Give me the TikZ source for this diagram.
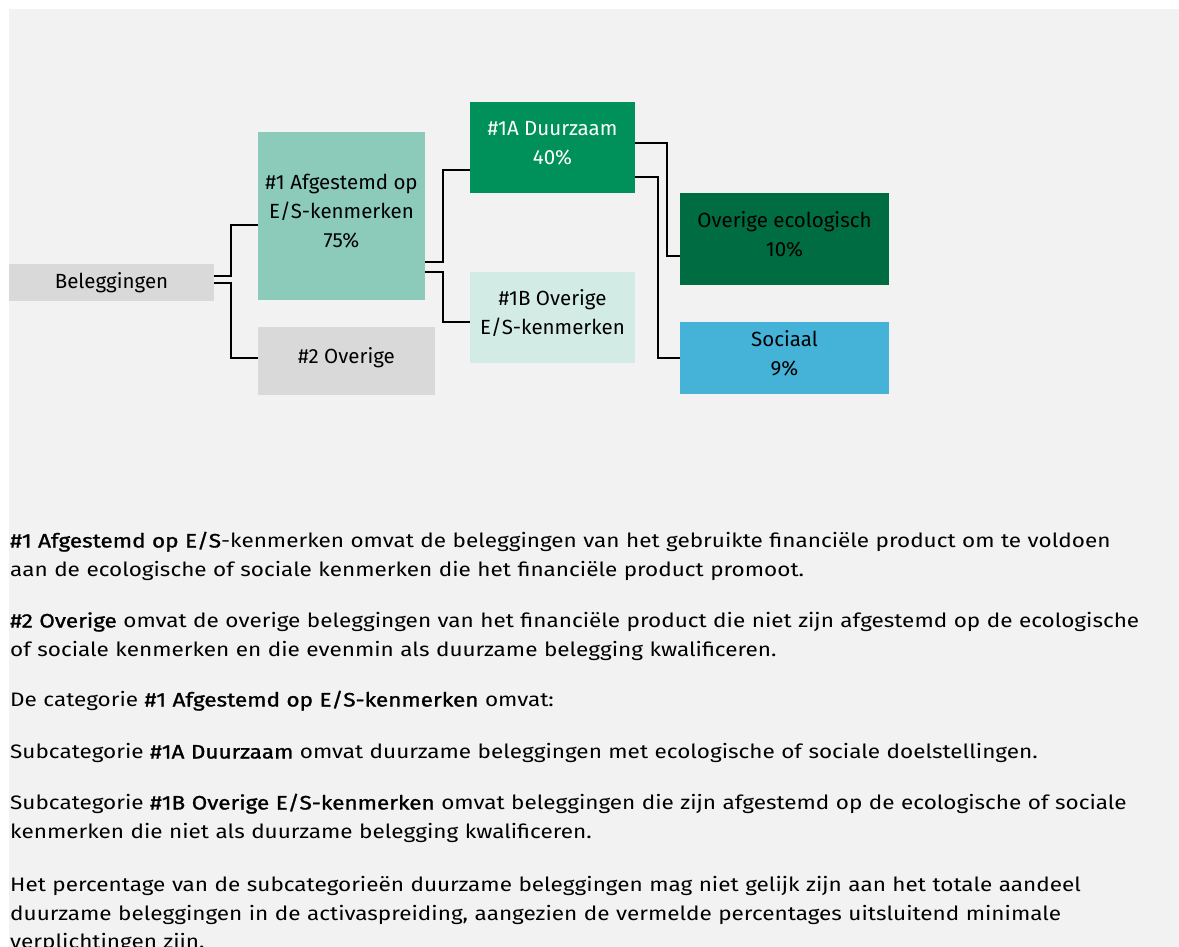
\documentclass[tikz,border=0pt]{standalone}
\usepackage{fontspec}
\setmainfont{Fira Sans}
\newfontfamily\bodyfont{Fira Sans}[FakeStretch=1.155,BoldFont={Fira Sans},BoldFeatures={FakeBold=1.2}]
\usetikzlibrary{positioning}

\definecolor{pagegrey}{HTML}{F2F2F2}
\definecolor{boxgrey}{HTML}{D9D9D9}
\definecolor{tealmid}{HTML}{8CCBBA}
\definecolor{bnpgreen}{HTML}{00915A}
\definecolor{mintlight}{HTML}{D2EBE5}
\definecolor{darkgreen}{HTML}{006C42}
\definecolor{skyblue}{HTML}{45B2D8}

\newcommand{\boxsize}{\fontsize{20.5}{29}\selectfont}
\newcommand{\bodysize}{\fontsize{19.5}{28.5}\selectfont}
% struts to sit box texts a little above the middle
\newcommand{\upstrut}{\rule{0pt}{16pt}}
\newcommand{\downstrut}{\rule[-10.5pt]{0pt}{10.5pt}}

\begin{document}
\begin{tikzpicture}[x=1pt,y=-1pt]
	\tikzstyle{box}=[rectangle,inner sep=0pt,align=center,font=\boxsize]
	\tikzstyle{link}=[draw=black,line width=2pt]
	\tikzstyle{para}=[anchor=base west,inner sep=0pt,text width=1165pt,align=left,font=\bodyfont\bodysize]
	% page
	\fill[white] (0,0) rectangle (1179,947);
	\fill[pagegrey] (9,9) rectangle (1179,947);
	\useasboundingbox (0,0) rectangle (1179,947);

	% first level
	\node[box,fill=boxgrey,minimum width=205pt,minimum height=37pt] (bel) at (111.5,282.5) {Beleggingen};

	% second level
	\node[box,fill=tealmid,minimum width=167pt,minimum height=168pt] (afg) at (341.5,216) {\upstrut\#1 Afgestemd op\\E/S-kenmerken\\75\%\downstrut};
	\node[box,fill=boxgrey,minimum width=177pt,minimum height=68pt] (ovr) at (346.5,361) {\upstrut\#2 Overige\downstrut};

	% third level
	\node[box,fill=bnpgreen,text=white,minimum width=165pt,minimum height=91pt] (duz) at (552.5,147.5) {\upstrut\#1A Duurzaam\\40\%\downstrut};
	\node[box,fill=mintlight,minimum width=165pt,minimum height=91pt] (oes) at (552.5,317.5) {\upstrut\#1B Overige\\E/S-kenmerken\downstrut};

	% fourth level
	\node[box,fill=darkgreen,minimum width=209pt,minimum height=92pt] (eco) at (784.5,239) {\upstrut Overige ecologisch\\10\%\downstrut};
	\node[box,fill=skyblue,minimum width=209pt,minimum height=72pt] (soc) at (784.5,358) {\upstrut Sociaal\\9\%\downstrut};

	% connectors
	\draw[link] ([yshift=6.5pt]bel.east) -- ++(17,0) |- ([yshift=-9pt]afg.west);
	\draw[link] ([yshift=0pt]bel.east) -- ++(17,0) |- ([yshift=3pt]ovr.west);
	\draw[link] ([yshift=-46pt]afg.east) -- ++(18,0) |- ([yshift=-22.5pt]duz.west);
	\draw[link] ([yshift=-56pt]afg.east) -- ++(18,0) |- ([yshift=-4.5pt]oes.west);
	\draw[link] ([yshift=4.5pt]duz.east) -- ++(32,0) |- ([yshift=-17pt]eco.west);
	\draw[link] ([yshift=-29.5pt]duz.east) -- ++(23,0) |- ([yshift=0pt]soc.west);

	% explanation
	\node[para] (txta) at (10,547.5) {\textbf{\#1 Afgestemd op E/S}-kenmerken omvat de beleggingen van het gebruikte financiële product om te voldoen\\aan de ecologische of sociale kenmerken die het financiële product promoot.};
	\node[para] (txtb) at (10,627.5) {\textbf{\#2 Overige} omvat de overige beleggingen van het financiële product die niet zijn afgestemd op de ecologische\\of sociale kenmerken en die evenmin als duurzame belegging kwalificeren.};
	\node[para] (txtc) at (10,706.5) {De categorie \textbf{\#1 Afgestemd op E/S-kenmerken} omvat:};
	\node[para] (txtd) at (10,758.5) {Subcategorie \textbf{\#1A Duurzaam} omvat duurzame beleggingen met ecologische of sociale doelstellingen.};
	\node[para] (txte) at (10,809.5) {Subcategorie \textbf{\#1B Overige E/S-kenmerken} omvat beleggingen die zijn afgestemd op de ecologische of sociale\\kenmerken die niet als duurzame belegging kwalificeren.};
	\node[para] (txtf) at (10,891.5) {Het percentage van de subcategorieën duurzame beleggingen mag niet gelijk zijn aan het totale aandeel\\duurzame beleggingen in de activaspreiding, aangezien de vermelde percentages uitsluitend minimale\\verplichtingen zijn.};
\end{tikzpicture}
\end{document}
